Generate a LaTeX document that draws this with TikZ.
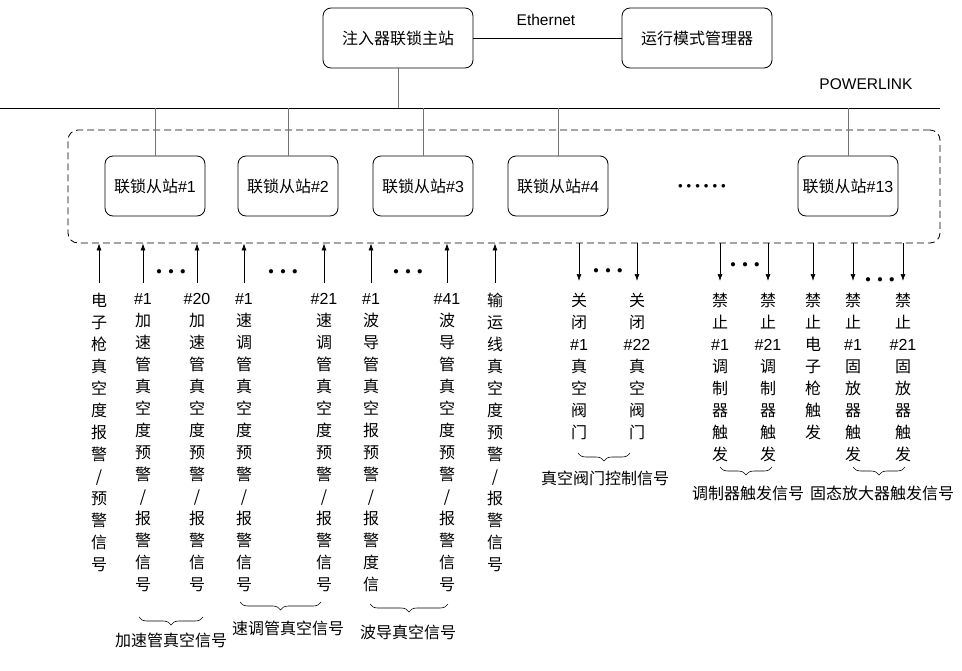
\documentclass[tikz,border=0pt]{standalone}
\usepackage{fontspec}
\setmainfont{Noto Sans CJK SC}
\newfontfamily\westfont{Liberation Sans}
\usetikzlibrary{arrows.meta,positioning,decorations.pathreplacing}

\newcommand{\threedots}{$\bullet$\hspace{6.5pt}$\bullet$\hspace{6.5pt}$\bullet$}

\begin{document}
\begin{tikzpicture}[x=1pt,y=-1pt,
  font=\fontsize{16}{22}\selectfont,
  station/.style={draw,rounded corners=8pt,line width=0.8pt,
    minimum width=100pt,minimum height=60pt,inner sep=0pt},
  sig/.style={align=center,anchor=north,inner sep=0pt,
    execute at begin node={\rule{0pt}{14pt}}},
  tap/.style={black!55,line width=0.7pt},
  sigup/.style={-{Latex[length=7pt,width=5pt]},line width=0.7pt,shorten <=10pt},
  sigdown/.style={-{Latex[length=7pt,width=5pt]},line width=0.7pt,shorten >=12pt},
  sigbrace/.style={decorate,line width=0.6pt,
    decoration={brace,mirror,amplitude=8pt}},
  dotfont/.style={font=\fontsize{11}{11}\selectfont,inner sep=0pt}]
\useasboundingbox (0,0) rectangle (962,670);

% 主站
\node[station,minimum width=150pt] (master) at (398,38) {注入器联锁主站};
\node[station,minimum width=150pt] (manager) at (697,38) {运行模式管理器};
\draw[line width=0.8pt] (master) -- (manager);
\node[font=\westfont\fontsize{15.5}{18}\selectfont] (eth) at (546,20) {Ethernet};

% POWERLINK
\coordinate (busL) at (0,108);
\coordinate (busR) at (940,108);
\draw[line width=0.8pt] (busL) -- (busR);
\node[font=\westfont\fontsize{15.5}{18}\selectfont] (plk) at (866,84) {POWERLINK};
\draw[tap] (master) -- (master |- busL);

% 从站
\node[draw,dash pattern=on 7pt off 4pt,rounded corners=10pt,line width=0.8pt,
  minimum width=872pt,minimum height=113pt] (frame) at (504,186.5) {};
\foreach \i/\x in {1/155,2/288,3/423,4/558,13/848}{
  \node[station] (s\i) at (\x,186) {联锁从站{\westfont\#\i}};
  \draw[tap] (s\i) -- (s\i |- busL);
}
\node[dotfont,font=\fontsize{9}{9}\selectfont] (more) at (702,186)
  {$\bullet$\hspace{4pt}$\bullet$\hspace{4pt}$\bullet$\hspace{4pt}$\bullet$\hspace{4pt}$\bullet$\hspace{4pt}$\bullet$};

% 输入信号
\node[sig] (gun) at (99,293) {电\\子\\枪\\真\\空\\度\\报\\警\\/\\预\\警\\信\\号};
\node[sig] (acc1) at (143,293) {{\westfont\#1}\\加\\速\\管\\真\\空\\度\\预\\警\\/\\报\\警\\信\\号};
\node[sig] (acc20) at (197,293) {{\westfont\#20}\\加\\速\\管\\真\\空\\度\\预\\警\\/\\报\\警\\信\\号};
\node[sig] (kly1) at (244,293) {{\westfont\#1}\\速\\调\\管\\真\\空\\度\\预\\警\\/\\报\\警\\信\\号};
\node[sig] (kly21) at (324,293) {{\westfont\#21}\\速\\调\\管\\真\\空\\度\\预\\警\\/\\报\\警\\信\\号};
\node[sig] (wg1) at (371,293) {{\westfont\#1}\\波\\导\\管\\真\\空\\报\\预\\警\\/\\报\\警\\度\\信};
\node[sig] (wg41) at (447,293) {{\westfont\#41}\\波\\导\\管\\真\\空\\度\\预\\警\\/\\报\\警\\信\\号};
\node[sig] (trans) at (495,293) {输\\运\\线\\真\\空\\度\\预\\警\\/\\报\\警\\信\\号};
\path[sigup]
(gun.north) edge (gun.north |- frame.south)
(acc1.north) edge (acc1.north |- frame.south)
(acc20.north) edge (acc20.north |- frame.south)
(kly1.north) edge (kly1.north |- frame.south)
(kly21.north) edge (kly21.north |- frame.south)
(wg1.north) edge (wg1.north |- frame.south)
(wg41.north) edge (wg41.north |- frame.south)
(trans.north) edge (trans.north |- frame.south);
\node[dotfont] (accdots) at (171,272) {\threedots};
\node[dotfont] (klydots) at (283,272) {\threedots};
\node[dotfont] (wgdots) at (408,272) {\threedots};

% 输出信号
\node[sig] (v1) at (579,293) {关\\闭\\{\westfont\#1}\\真\\空\\阀\\门};
\node[sig] (v22) at (637,293) {关\\闭\\{\westfont\#22}\\真\\空\\阀\\门};
\node[sig] (mod1) at (720,293) {禁\\止\\{\westfont\#1}\\调\\制\\器\\触\\发};
\node[sig] (mod21) at (768,293) {禁\\止\\{\westfont\#21}\\调\\制\\器\\触\\发};
\node[sig] (gunoff) at (813,293) {禁\\止\\电\\子\\枪\\触\\发};
\node[sig] (ssa1) at (853,293) {禁\\止\\{\westfont\#1}\\固\\放\\器\\触\\发};
\node[sig] (ssa21) at (903,293) {禁\\止\\{\westfont\#21}\\固\\放\\器\\触\\发};
\path[sigdown]
(frame.south -| v1.north) edge (v1.north)
(frame.south -| v22.north) edge (v22.north)
(frame.south -| mod1.north) edge (mod1.north)
(frame.south -| mod21.north) edge (mod21.north)
(frame.south -| gunoff.north) edge (gunoff.north)
(frame.south -| ssa1.north) edge (ssa1.north)
(frame.south -| ssa21.north) edge (ssa21.north);
\node[dotfont] (vdots) at (608,271) {\threedots};
\node[dotfont] (moddots) at (745,265) {\threedots};
\node[dotfont] (ssadots) at (880,280) {\threedots};

% 分组
\draw[sigbrace] (139,617) -- (203,617);
\node (accg) at (171,640) {加速管真空信号};
\draw[sigbrace] (240,602) -- (321,602);
\node (klyg) at (288,628) {速调管真空信号};
\draw[sigbrace] (370,604) -- (448,604);
\node (wgg) at (408,632) {波导真空信号};
\draw[sigbrace] (578,453) -- (630,453);
\node (vg) at (605,478) {真空阀门控制信号};
\draw[sigbrace] (720,467) -- (772,467);
\node (modg) at (748,493) {调制器触发信号};
\draw[sigbrace] (853,467) -- (905,467);
\node (ssag) at (882,493) {固态放大器触发信号};
\end{tikzpicture}
\end{document}
